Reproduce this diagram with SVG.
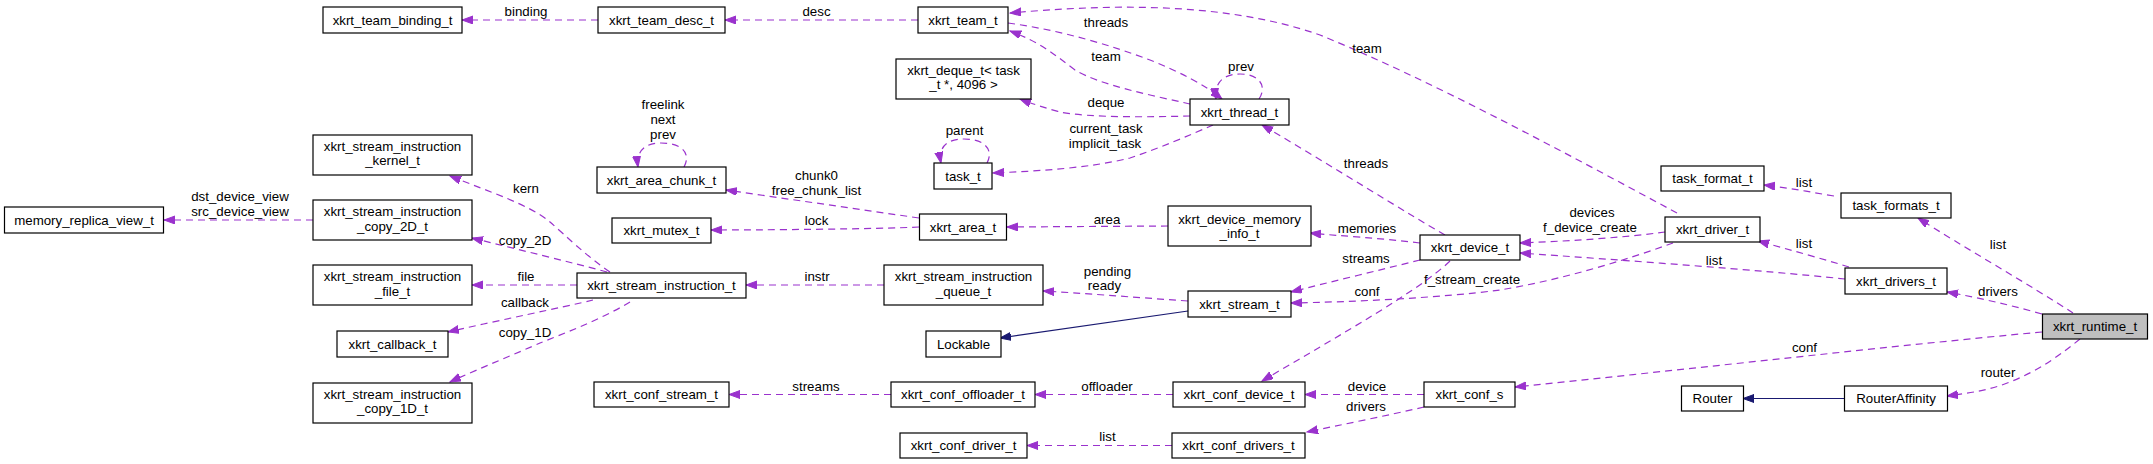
<svg xmlns="http://www.w3.org/2000/svg" width="2153" height="464" viewBox="0 0 2153 464">
<style>
.n rect{fill:#fff;stroke:#000;stroke-width:1.2}
.n text,.l text{font-family:"Liberation Sans",Arial,sans-serif;font-size:13.3px;fill:#000;text-anchor:middle}
.e{fill:none;stroke:#9a32cd;stroke-width:1.2;stroke-dasharray:7,5;marker-end:url(#ap)}
.i{fill:none;stroke:#191970;stroke-width:1.2;marker-end:url(#ab)}
</style>
<defs>
<marker id="ap" markerUnits="userSpaceOnUse" markerWidth="12" markerHeight="9" refX="11" refY="4" orient="auto"><path d="M0,0 L11,4 L0,8 z" fill="#9a32cd" stroke="#9a32cd"/></marker>
<marker id="ab" markerUnits="userSpaceOnUse" markerWidth="12" markerHeight="9" refX="11" refY="4" orient="auto"><path d="M0,0 L11,4 L0,8 z" fill="#191970" stroke="#191970"/></marker>
</defs>
<rect width="2153" height="464" fill="#fff"/>
<g id="connectors">
<path class="e" d="M598,20 L462,20"/>
<path class="e" d="M918,20 L725,20"/>
<path class="e" d="M1190,104 C1150,95 1100,85 1075,70 C1055,55 1040,42 1010,31"/>
<path class="e" d="M1008,23 C1060,30 1110,45 1150,60 C1180,72 1205,85 1222,99"/>
<path class="e" d="M1259,99 C1268,85 1258,74 1240,74 C1222,74 1214,84 1216,99"/>
<path class="e" d="M1190,116 C1150,117 1090,118 1060,112 C1045,108 1030,103 1020,99"/>
<path class="e" d="M1213,125 C1190,135 1160,148 1130,158 C1090,168 1040,171 993,173"/>
<path class="e" d="M987,163 C994,150 985,139 964,139 C946,139 938,148 941,163"/>
<path class="e" d="M684,167 C692,152 680,143 661,143 C644,143 636,152 638,167"/>
<path class="e" d="M919,218 L726,190"/>
<path class="e" d="M919,227 C880,229 760,230 711,230"/>
<path class="e" d="M1168,226 L1007,227"/>
<path class="e" d="M1420,243 C1380,238 1340,236 1310,233"/>
<path class="e" d="M1445,235 C1410,215 1330,165 1262,125"/>
<path class="e" d="M1420,260 C1380,270 1330,282 1291,292"/>
<path class="e" d="M1450,261 C1420,290 1340,335 1262,381"/>
<path class="e" d="M1665,232 C1620,238 1570,241 1520,243"/>
<path class="e" d="M1677,213 C1560,150 1430,80 1320,35 C1220,0 1100,5 1010,13"/>
<path class="e" d="M1673,243 C1620,262 1560,280 1500,290 C1440,298 1350,302 1291,303"/>
<path class="e" d="M1188,301 C1130,297 1080,293 1043,291"/>
<path class="i" d="M1188,311 L1000,338"/>
<path class="e" d="M884,285 L746,285"/>
<path class="e" d="M610,272 C585,255 565,235 550,222 C530,205 490,192 450,176"/>
<path class="e" d="M607,272 C570,262 520,250 472,238"/>
<path class="e" d="M577,285 L472,285"/>
<path class="e" d="M593,300 C560,308 500,320 448,332"/>
<path class="e" d="M630,302 C600,320 560,335 540,343 C520,352 480,368 450,382"/>
<path class="e" d="M313,220 L164,220"/>
<path class="e" d="M891,394.5 L729,394.5"/>
<path class="e" d="M1173,394.5 L1035,394.5"/>
<path class="e" d="M1424,394.5 L1305,394.5"/>
<path class="e" d="M1424,407 C1390,415 1340,425 1307,432"/>
<path class="e" d="M1172,445.5 L1027,445.5"/>
<path class="e" d="M2042,332 C1900,345 1700,368 1515,387"/>
<path class="e" d="M2080,339 C2060,355 2040,370 2010,382 C1990,390 1970,393 1947,396"/>
<path class="i" d="M1844.5,398.5 L1743,398.5"/>
<path class="e" d="M2042,314 C2010,305 1980,298 1947,292"/>
<path class="e" d="M2073,313 C2030,285 1960,245 1918,218"/>
<path class="e" d="M1834,196 C1810,192 1790,188 1764,185"/>
<path class="e" d="M1849,267 C1820,258 1790,250 1758,241"/>
<path class="e" d="M1845,279 C1760,270 1620,260 1520,253"/>
</g>
<g class="l" id="labels">
<text x="526" y="16">binding</text>
<text x="816.5" y="16">desc</text>
<text x="1106" y="27">threads</text>
<text x="1106" y="61">team</text>
<text x="1241" y="71">prev</text>
<text x="1106" y="107">deque</text>
<text x="1106" y="133">current_task</text>
<text x="1105" y="148">implicit_task</text>
<text x="1367" y="53">team</text>
<text x="964.5" y="135">parent</text>
<text x="663" y="109">freelink</text>
<text x="663" y="124">next</text>
<text x="663" y="139">prev</text>
<text x="816.5" y="179.5">chunk0</text>
<text x="816.5" y="194.5">free_chunk_list</text>
<text x="816.5" y="225">lock</text>
<text x="1107" y="223.5">area</text>
<text x="1366" y="168">threads</text>
<text x="1367" y="233">memories</text>
<text x="1592" y="216.5">devices</text>
<text x="1590" y="232">f_device_create</text>
<text x="1366" y="263">streams</text>
<text x="1472" y="284">f_stream_create</text>
<text x="1367" y="296">conf</text>
<text x="1107.5" y="275.5">pending</text>
<text x="1104.5" y="289.5">ready</text>
<text x="817" y="281">instr</text>
<text x="526" y="193">kern</text>
<text x="525" y="244.5">copy_2D</text>
<text x="526" y="281">file</text>
<text x="525" y="307">callback</text>
<text x="525" y="337">copy_1D</text>
<text x="240" y="201">dst_device_view</text>
<text x="240" y="216">src_device_view</text>
<text x="816" y="391">streams</text>
<text x="1107" y="391">offloader</text>
<text x="1367" y="391">device</text>
<text x="1366" y="411">drivers</text>
<text x="1107.5" y="440.5">list</text>
<text x="1804" y="187">list</text>
<text x="1804" y="248">list</text>
<text x="1714" y="264.5">list</text>
<text x="1998" y="249">list</text>
<text x="1998" y="296">drivers</text>
<text x="1804.5" y="352">conf</text>
<text x="1998" y="377">router</text>
</g>
<g id="n_team_binding" class="n"><rect x="323" y="7" width="139" height="26"/><text x="392.5" y="24.5">xkrt_team_binding_t</text></g>
<g id="n_team_desc" class="n"><rect x="598" y="7" width="127" height="26"/><text x="661.5" y="24.5">xkrt_team_desc_t</text></g>
<g id="n_team" class="n"><rect x="918" y="7" width="90" height="26"/><text x="963" y="24.5">xkrt_team_t</text></g>
<g id="n_deque" class="n"><rect x="896" y="59" width="135" height="40"/><text x="963.5" y="75">xkrt_deque_t&lt; task</text><text x="963.5" y="89">_t *, 4096 &gt;</text></g>
<g id="n_thread" class="n"><rect x="1190" y="99" width="99" height="26"/><text x="1239.5" y="116.5">xkrt_thread_t</text></g>
<g id="n_area_chunk" class="n"><rect x="597" y="167" width="129" height="26"/><text x="661.5" y="184.5">xkrt_area_chunk_t</text></g>
<g id="n_task" class="n"><rect x="934" y="163" width="58" height="26"/><text x="963" y="180.5">task_t</text></g>
<g id="n_mutex" class="n"><rect x="612" y="218" width="99" height="25"/><text x="661.5" y="235">xkrt_mutex_t</text></g>
<g id="n_area" class="n"><rect x="919.5" y="214" width="87" height="26"/><text x="963" y="231.5">xkrt_area_t</text></g>
<g id="n_dmi" class="n"><rect x="1168" y="206" width="143" height="40"/><text x="1239.5" y="223.5">xkrt_device_memory</text><text x="1239.5" y="237.5">_info_t</text></g>
<g id="n_device" class="n"><rect x="1420" y="235" width="100" height="25"/><text x="1470" y="252">xkrt_device_t</text></g>
<g id="n_driver" class="n"><rect x="1665" y="217" width="95" height="25"/><text x="1712.5" y="234">xkrt_driver_t</text></g>
<g id="n_task_format" class="n"><rect x="1661" y="166" width="103" height="25"/><text x="1712.5" y="183">task_format_t</text></g>
<g id="n_task_formats" class="n"><rect x="1841" y="193" width="110" height="25"/><text x="1896" y="210">task_formats_t</text></g>
<g id="n_drivers" class="n"><rect x="1845" y="268" width="102" height="26"/><text x="1896" y="285.5">xkrt_drivers_t</text></g>
<g id="n_runtime" class="n"><rect x="2042.5" y="314" width="105" height="25" style="fill:#bfbfbf"/><text x="2095" y="331">xkrt_runtime_t</text></g>
<g id="n_router" class="n"><rect x="1681.5" y="386" width="62" height="25"/><text x="1712.5" y="403">Router</text></g>
<g id="n_router_affinity" class="n"><rect x="1844.5" y="386" width="103" height="25"/><text x="1896" y="403">RouterAffinity</text></g>
<g id="n_conf_s" class="n"><rect x="1424" y="382" width="91" height="25"/><text x="1469.5" y="399">xkrt_conf_s</text></g>
<g id="n_conf_device" class="n"><rect x="1173" y="382" width="132" height="25"/><text x="1239" y="399">xkrt_conf_device_t</text></g>
<g id="n_conf_drivers" class="n"><rect x="1172" y="433" width="133" height="25"/><text x="1238.5" y="450">xkrt_conf_drivers_t</text></g>
<g id="n_conf_offloader" class="n"><rect x="891" y="382" width="144" height="25"/><text x="963" y="399">xkrt_conf_offloader_t</text></g>
<g id="n_conf_driver" class="n"><rect x="900" y="433" width="127" height="25"/><text x="963.5" y="450">xkrt_conf_driver_t</text></g>
<g id="n_conf_stream" class="n"><rect x="594" y="382" width="135" height="25"/><text x="661.5" y="399">xkrt_conf_stream_t</text></g>
<g id="n_stream" class="n"><rect x="1188" y="291" width="103" height="26"/><text x="1239.5" y="308.5">xkrt_stream_t</text></g>
<g id="n_queue" class="n"><rect x="884" y="265" width="159" height="40"/><text x="963.5" y="281">xkrt_stream_instruction</text><text x="963.5" y="295.5">_queue_t</text></g>
<g id="n_lockable" class="n"><rect x="926" y="331" width="75" height="26"/><text x="963.5" y="348.5">Lockable</text></g>
<g id="n_stream_instruction" class="n"><rect x="577" y="273" width="169" height="25"/><text x="661.5" y="290">xkrt_stream_instruction_t</text></g>
<g id="n_kernel" class="n"><rect x="313" y="135" width="159" height="40"/><text x="392.5" y="151">xkrt_stream_instruction</text><text x="392.5" y="165">_kernel_t</text></g>
<g id="n_copy_2d" class="n"><rect x="313" y="200" width="159" height="40"/><text x="392.5" y="216">xkrt_stream_instruction</text><text x="392.5" y="231">_copy_2D_t</text></g>
<g id="n_file" class="n"><rect x="313" y="265" width="159" height="40"/><text x="392.5" y="281">xkrt_stream_instruction</text><text x="392.5" y="295.5">_file_t</text></g>
<g id="n_callback" class="n"><rect x="337" y="331" width="111" height="26"/><text x="392.5" y="348.5">xkrt_callback_t</text></g>
<g id="n_copy_1d" class="n"><rect x="313" y="383" width="159" height="40"/><text x="392.5" y="399">xkrt_stream_instruction</text><text x="392.5" y="413">_copy_1D_t</text></g>
<g id="n_memory_replica" class="n"><rect x="4.5" y="207" width="159" height="26"/><text x="84" y="224.5">memory_replica_view_t</text></g>
</svg>
